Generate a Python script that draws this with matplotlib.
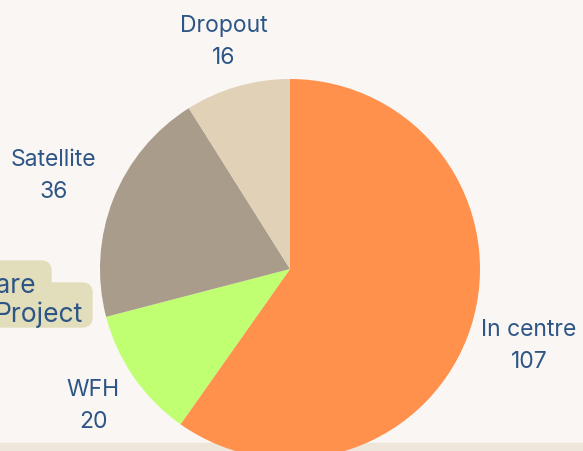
import numpy as np
import matplotlib.pyplot as plt
from matplotlib.patches import FancyBboxPatch, Rectangle

labels = ["In centre", "WFH", "Satellite", "Dropout"]
counts = [107, 20, 36, 16]
colors = ["#FF914D", "#C1FF72", "#A99C8B", "#E0D1B7"]
label_dist = [1.32, 1.26, 1.34, 1.25]

txt_color = "#2D5585"
bg = "#FAF6F3"

fig = plt.figure(figsize=(5.83, 4.52), dpi=100, facecolor=bg)
ax = fig.add_axes([0, 0, 1, 1])

# bottom band
ax.add_patch(Rectangle((0, 0), 583, 8, color="#EEE5DB", zorder=0))

# cropped side box on the left
ax.add_patch(FancyBboxPatch((-30, 124), 122, 44, boxstyle="round,pad=0,rounding_size=10",
                            color="#E2DEBB", zorder=1))
ax.add_patch(FancyBboxPatch((-30, 150), 81, 40, boxstyle="round,pad=0,rounding_size=10",
                            color="#E2DEBB", zorder=1))
ax.text(36, 166, "Welfare", ha="right", va="center", fontsize=19, color=txt_color,
        family="Inter", zorder=2)
ax.text(83, 137, "Project", ha="right", va="center", fontsize=19, color=txt_color,
        family="Inter", zorder=2)

cx, cy, r = 290, 182, 190
wedges, _ = ax.pie(counts, colors=colors, startangle=90, counterclock=False,
                   center=(cx, cy), radius=r, frame=True,
                   wedgeprops=dict(linewidth=0))
ax.set_xlim(0, 583)
ax.set_ylim(0, 452)
ax.set_aspect("equal")
ax.axis("off")

for w, name, n, d in zip(wedges, labels, counts, label_dist):
    th = np.deg2rad((w.theta1 + w.theta2) / 2)
    x = cx + d * r * np.cos(th)
    y = cy + d * r * np.sin(th)
    ax.text(x, y, f"{name}\n{n}", ha="center", va="center", fontsize=16.5,
            color=txt_color, family="Inter", linespacing=1.6, zorder=3)

fig.savefig("out.png", dpi=100, facecolor=bg)
